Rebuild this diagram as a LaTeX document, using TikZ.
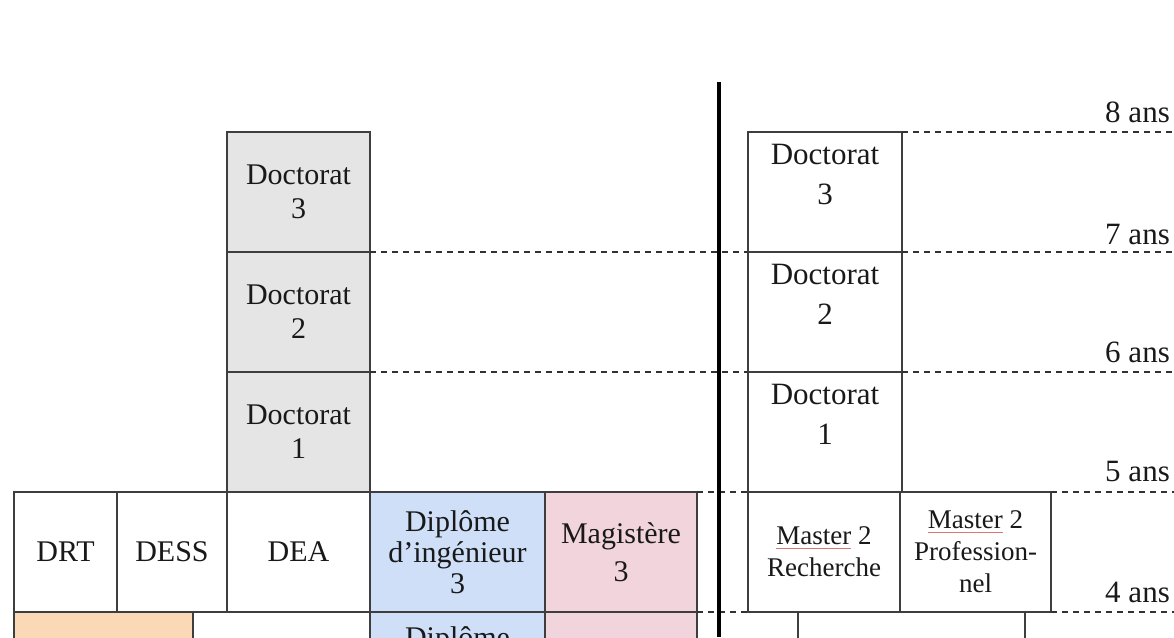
\documentclass[tikz,border=0pt]{standalone}
\usepackage{fontspec}
\setmainfont{Liberation Serif}
\definecolor{linec}{RGB}{62,62,62}
\definecolor{dashc}{RGB}{50,50,50}
\definecolor{gfill}{RGB}{229,229,229}
\definecolor{bfill}{RGB}{206,223,247}
\definecolor{pfill}{RGB}{242,212,220}
\definecolor{ofill}{RGB}{251,217,183}
\definecolor{txtc}{RGB}{25,25,25}
\definecolor{spell}{RGB}{215,120,120}
\newcommand{\spellchk}[1]{\setbox0\hbox{#1}\rlap{\color{spell}\rule[-4pt]{\wd0}{1.1pt}}#1}
\begin{document}
\begin{tikzpicture}[x=1pt,y=-1pt,
  cell/.style={draw=linec, line width=2.6pt, inner sep=0pt, outer sep=0pt, align=center,
    text=txtc, font=\fontsize{30}{34}\selectfont},
  txt/.style={inner sep=0pt, align=center, text=txtc},
  dashline/.style={draw=dashc, line width=2.2pt, dash pattern=on 6pt off 5pt},
  lab/.style={anchor=east, inner sep=0pt, text=txtc, font=\fontsize{31}{36}\selectfont}
]
\useasboundingbox (0,0) rectangle (1174,637);
\clip (0,0) rectangle (1174,637);

% ---------- left block ----------
\node[cell, fill=gfill, minimum width=143pt, minimum height=120pt] (ld3) at (298.5,192) {Doctorat\\3};
\node[cell, fill=gfill, minimum width=143pt, minimum height=120pt] (ld2) at (298.5,312) {Doctorat\\2};
\node[cell, fill=gfill, minimum width=143pt, minimum height=120pt] (ld1) at (298.5,432) {Doctorat\\1};

\node[cell, minimum width=103pt, minimum height=120pt] (drt) at (65.5,552) {DRT};
\node[cell, minimum width=110pt, minimum height=120pt] (dess) at (172,552) {DESS};
\node[cell, minimum width=143pt, minimum height=120pt] (dea) at (298.5,552) {DEA};
\node[cell, fill=bfill, minimum width=175pt, minimum height=120pt, font=\fontsize{30}{31}\selectfont] (ing3) at (457.5,552) {Diplôme\\d'ingénieur\\3};
\node[cell, fill=pfill, minimum width=152pt, minimum height=120pt, font=\fontsize{30}{38}\selectfont] (mag3) at (621,552) {Magistère\\3};

\node[cell, fill=ofill, minimum width=179pt, minimum height=120pt] (orng) at (103.5,672) {};
\node[cell, minimum width=177pt, minimum height=120pt] (mid) at (281.5,672) {};
\node[cell, fill=bfill, minimum width=175pt, minimum height=120pt] (ing2) at (457.5,672) {};
\node[cell, fill=pfill, minimum width=152pt, minimum height=120pt] (mag2) at (621,672) {};
\node[txt, font=\fontsize{30}{31}\selectfont] (ing2t) at ([yshift=32pt]ing2.center) {Diplôme};

% ---------- right block ----------
\node[cell, minimum width=154pt, minimum height=120pt] (rd3) at (825,192) {};
\node[cell, minimum width=154pt, minimum height=120pt] (rd2) at (825,312) {};
\node[cell, minimum width=154pt, minimum height=120pt] (rd1) at (825,432) {};
\node[txt, font=\fontsize{31}{40}\selectfont] (rd3t) at ([yshift=18pt]rd3.center) {Doctorat\\3};
\node[txt, font=\fontsize{31}{40}\selectfont] (rd2t) at ([yshift=18pt]rd2.center) {Doctorat\\2};
\node[txt, font=\fontsize{31}{40}\selectfont] (rd1t) at ([yshift=18pt]rd1.center) {Doctorat\\1};

\node[cell, minimum width=152pt, minimum height=120pt, font=\fontsize{27}{32}\selectfont] (m2r) at (824,552) {\spellchk{Master} 2\\Recherche};
\node[cell, minimum width=151pt, minimum height=120pt, font=\fontsize{27}{32}\selectfont] (m2p) at (975.5,552) {\spellchk{Master} 2\\Profession-\\nel};
\node[cell, minimum width=227pt, minimum height=120pt] (m1) at (911.5,672) {};

% ---------- year marks ----------
\coordinate (r8) at (1174,132);
\coordinate (r7) at (1174,252);
\coordinate (r6) at (1174,372);
\coordinate (r5) at (1174,492);
\coordinate (r4) at (1174,612);

\draw[dashline] (rd3.north east) -- (r8);
\draw[dashline] (ld3.south east) -- (rd3.south west);
\draw[dashline] (rd3.south east) -- (r7);
\draw[dashline] (ld2.south east) -- (rd2.south west);
\draw[dashline] (rd2.south east) -- (r6);
\draw[dashline] (mag3.north east) -- (m2r.north west);
\draw[dashline] (m2p.north east) -- (r5);
\draw[dashline] (mag3.south east) -- (m2r.south west);
\draw[dashline] (m2p.south east) -- (r4);

\node[lab] (a8) at (1170,112) {8 ans};
\node[lab] (a7) at (1170,234) {7 ans};
\node[lab] (a6) at (1170,352) {6 ans};
\node[lab] (a5) at (1170,471) {5 ans};
\node[lab] (a4) at (1170,592) {4 ans};

% ---------- separator ----------
\coordinate (sept) at (719,82);
\coordinate (sepb) at (719,637);
\draw[line width=4pt, black] (sept) -- (sepb);
\end{tikzpicture}
\end{document}
